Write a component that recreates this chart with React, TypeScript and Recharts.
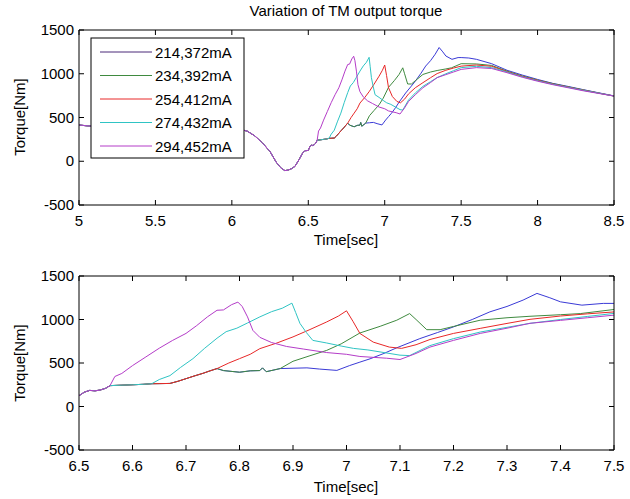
import { LineChart, Line, XAxis, YAxis } from "recharts";

type Pt = [number, number];

const TITLE = "Variation of TM output torque";
const X_LABEL = "Time[sec]";
const Y_LABEL = "Torque[Nm]";
const SERIES_NAMES = ["214,372mA", "234,392mA", "254,412mA", "274,432mA", "294,452mA"];
const LINE_COLORS = ["#3a3ad6", "#3f8a3f", "#e82828", "#2fc4c4", "#b43cc8"];
const LEGEND_COLORS = ["#4a2878", "#3f8a3f", "#e82828", "#2fc4c4", "#b43cc8"];

const Y_TICKS = [-500, 0, 500, 1000, 1500];
const TOP_X_TICKS = [5, 5.5, 6, 6.5, 7, 7.5, 8, 8.5];
const BOTTOM_X_TICKS = [6.5, 6.6, 6.7, 6.8, 6.9, 7, 7.1, 7.2, 7.3, 7.4, 7.5];

// segment shared by every current
const COMMON: Pt[] = [
  [5.0, 415], [5.05, 405], [5.1, 400], [5.2, 398], [5.3, 396], [5.4, 394], [5.5, 392],
  [5.6, 390], [5.7, 388], [5.8, 385], [5.9, 380], [6.0, 370], [6.05, 365], [6.1, 345],
  [6.15, 290], [6.2, 210], [6.25, 110], [6.29, -10], [6.32, -75], [6.347, -107],
  [6.37, -100], [6.39, -85], [6.413, -58], [6.44, 20], [6.465, 100], [6.48, 120],
  [6.5, 124], [6.51, 165], [6.52, 185], [6.53, 180], [6.54, 190], [6.55, 210], [6.558, 240],
];
// 214..274 still together
const LOW: Pt[] = [[6.58, 245], [6.6, 250], [6.62, 255], [6.636, 262]];
// 214, 234, 254 together
const RGB: Pt[] = [
  [6.65, 263], [6.67, 265], [6.685, 290], [6.7, 320], [6.715, 350], [6.732, 382],
  [6.745, 410], [6.758, 436],
];
// 214, 234 together
const GB: Pt[] = [[6.77, 413], [6.8, 394], [6.82, 410], [6.838, 413], [6.843, 444], [6.85, 400], [6.876, 436]];

const S214: Pt[] = [
  [6.9, 440], [6.926, 444], [6.95, 430], [6.982, 415], [7.006, 471], [7.025, 510],
  [7.044, 548], [7.07, 610], [7.094, 675], [7.137, 780], [7.17, 850], [7.2, 915],
  [7.235, 1000], [7.268, 1088], [7.3, 1150], [7.33, 1223], [7.356, 1300], [7.38, 1250],
  [7.4, 1203], [7.44, 1165], [7.48, 1185], [7.5, 1185], [7.55, 1180], [7.6, 1165],
  [7.7, 1115], [7.8, 1040], [7.9, 985], [8.0, 935], [8.1, 890], [8.2, 855], [8.3, 818],
  [8.4, 782], [8.5, 747],
];
const S234: Pt[] = [
  [6.9, 520], [6.93, 580], [6.963, 645], [6.99, 720], [7.025, 845], [7.063, 922],
  [7.094, 992], [7.118, 1068], [7.13, 1000], [7.15, 883], [7.175, 883], [7.2, 920],
  [7.25, 992], [7.3, 1020], [7.343, 1037], [7.4, 1055], [7.437, 1068], [7.5, 1115],
  [7.6, 1112], [7.7, 1095], [7.8, 1030], [7.9, 975], [8.0, 928], [8.1, 887], [8.2, 850],
  [8.3, 815], [8.4, 780], [8.5, 745],
];
const S254: Pt[] = [
  [6.78, 500], [6.8, 550], [6.82, 600], [6.838, 665], [6.87, 730], [6.9, 800], [6.93, 880],
  [6.963, 972], [6.985, 1040], [7.0, 1100], [7.012, 980], [7.025, 840], [7.05, 740],
  [7.08, 683], [7.103, 668], [7.13, 710], [7.156, 770], [7.2, 840], [7.25, 898],
  [7.3, 955], [7.343, 1002], [7.4, 1040], [7.45, 1065], [7.5, 1087], [7.6, 1100],
  [7.7, 1085], [7.8, 1025], [7.9, 970], [8.0, 925], [8.1, 883], [8.2, 848], [8.3, 812],
  [8.4, 778], [8.5, 745],
];
const S274: Pt[] = [
  [6.65, 310], [6.67, 355], [6.69, 450], [6.713, 550], [6.735, 670], [6.758, 785],
  [6.775, 860], [6.795, 900], [6.815, 960], [6.838, 1030], [6.86, 1090], [6.88, 1130],
  [6.898, 1188], [6.905, 1080], [6.913, 955], [6.925, 850], [6.937, 760], [6.963, 730],
  [6.99, 695], [7.013, 668], [7.04, 650], [7.07, 620], [7.1, 590], [7.118, 585],
  [7.156, 700], [7.2, 780], [7.25, 856], [7.3, 910], [7.343, 956], [7.4, 1000],
  [7.45, 1035], [7.5, 1070], [7.6, 1085], [7.7, 1070], [7.8, 1020], [7.9, 965],
  [8.0, 920], [8.1, 880], [8.2, 845], [8.3, 810], [8.4, 778], [8.5, 745],
];
const S294: Pt[] = [
  [6.567, 345], [6.58, 380], [6.6, 470], [6.625, 570], [6.65, 670], [6.675, 760],
  [6.7, 840], [6.72, 930], [6.74, 1030], [6.758, 1106], [6.77, 1110], [6.785, 1170],
  [6.797, 1200], [6.805, 1150], [6.815, 1030], [6.825, 875], [6.838, 795], [6.86, 735],
  [6.888, 690], [6.92, 660], [6.963, 620], [7.0, 600], [7.025, 575], [7.05, 565],
  [7.075, 555], [7.1, 540], [7.13, 610], [7.156, 683], [7.2, 760], [7.25, 840],
  [7.3, 900], [7.343, 956], [7.4, 990], [7.45, 1020], [7.5, 1050], [7.6, 1070],
  [7.7, 1060], [7.8, 1012], [7.9, 960], [8.0, 915], [8.1, 875], [8.2, 840], [8.3, 805],
  [8.4, 775], [8.5, 745],
];

const SERIES: Pt[][] = [
  [...COMMON, ...LOW, ...RGB, ...GB, ...S214],
  [...COMMON, ...LOW, ...RGB, ...GB, ...S234],
  [...COMMON, ...LOW, ...RGB, ...S254],
  [...COMMON, ...LOW, ...S274],
  [...COMMON, ...S294],
];

const FONT = "'Liberation Sans', Arial, sans-serif";

const fmt = (v: number) => String(Math.round(v * 10) / 10);

const BottomTick = ({ x, y, payload }: any) => (
  <g>
    <line x1={x} x2={x} y1={y} y2={y - 5} stroke="#000" />
    <text x={x} y={y + 21} textAnchor="middle" fontSize={15} fontFamily={FONT} fill="#000">
      {fmt(payload.value)}
    </text>
  </g>
);
const TopTick = ({ x, y }: any) => <line x1={x} x2={x} y1={y} y2={y + 5} stroke="#000" />;
const LeftTick = ({ x, y, payload }: any) => (
  <g>
    <line x1={x} x2={x + 5} y1={y} y2={y} stroke="#000" />
    <text x={x - 5} y={y + 5} textAnchor="end" fontSize={15} fontFamily={FONT} fill="#000">
      {payload.value}
    </text>
  </g>
);
const RightTick = ({ x, y }: any) => <line x1={x} x2={x - 5} y1={y} y2={y} stroke="#000" />;

function Panel({ top, height, mTop, mBottom, domain, xTicks }: any) {
  return (
    <div style={{ position: "absolute", left: 0, top }}>
      <LineChart width={630} height={height} margin={{ top: mTop - 1, right: 15, bottom: mBottom - 1, left: 78 }}>
        <XAxis
          type="number" dataKey="t" domain={domain} ticks={xTicks} allowDataOverflow interval={0}
          height={1} tickSize={0} tickMargin={0} tickLine={false} tick={<BottomTick />}
          axisLine={{ stroke: "#000" }}
        />
        <XAxis
          xAxisId="top" orientation="top" type="number" dataKey="t" domain={domain} ticks={xTicks}
          allowDataOverflow interval={0} height={1} tickSize={0} tickMargin={0} tickLine={false}
          tick={<TopTick />} axisLine={{ stroke: "#000" }}
        />
        <YAxis
          type="number" domain={[-500, 1500]} ticks={Y_TICKS} allowDataOverflow interval={0}
          width={1} tickSize={0} tickMargin={0} tickLine={false} tick={<LeftTick />}
          axisLine={{ stroke: "#000" }}
        />
        <YAxis
          yAxisId="right" orientation="right" type="number" domain={[-500, 1500]} ticks={Y_TICKS}
          allowDataOverflow interval={0} width={1} tickSize={0} tickMargin={0} tickLine={false}
          tick={<RightTick />} axisLine={{ stroke: "#000" }}
        />
        {SERIES.map((pts, i) => (
          <Line
            key={SERIES_NAMES[i]}
            data={pts.map(([t, v]) => ({ t, v }))}
            dataKey="v"
            type="linear"
            stroke={LINE_COLORS[i]}
            strokeWidth={1}
            dot={false}
            activeDot={false}
            isAnimationActive={false}
          />
        ))}
      </LineChart>
    </div>
  );
}

export default function App() {
  const legendRows = [52, 75.5, 99, 122.5, 146];
  return (
    <div style={{ position: "absolute", left: 0, top: 0, width: 630, height: 499, background: "#fff" }}>
      <Panel top={0} height={250} mTop={30} mBottom={45} domain={[5, 8.5]} xTicks={TOP_X_TICKS} />
      <Panel top={250} height={249} mTop={26} mBottom={49} domain={[6.5, 7.5]} xTicks={BOTTOM_X_TICKS} />
      <svg width={630} height={499} style={{ position: "absolute", left: 0, top: 0, pointerEvents: "none" }}>
        <text x={346} y={16} textAnchor="middle" fontSize={15} fontFamily={FONT}>{TITLE}</text>
        <text x={346} y={245} textAnchor="middle" fontSize={15} fontFamily={FONT}>{X_LABEL}</text>
        <text x={346} y={492} textAnchor="middle" fontSize={15} fontFamily={FONT}>{X_LABEL}</text>
        <text transform="translate(25,117) rotate(-90)" textAnchor="middle" fontSize={15} fontFamily={FONT}>{Y_LABEL}</text>
        <text transform="translate(25,363) rotate(-90)" textAnchor="middle" fontSize={15} fontFamily={FONT}>{Y_LABEL}</text>
        <rect x={91} y={38} width={153} height={120} fill="#fff" stroke="#000" />
        {SERIES_NAMES.map((name, i) => (
          <g key={name}>
            <line x1={100} x2={152} y1={legendRows[i]} y2={legendRows[i]} stroke={LEGEND_COLORS[i]} />
            <text x={155} y={legendRows[i] + 5.5} fontSize={15} fontFamily={FONT}>{name}</text>
          </g>
        ))}
      </svg>
    </div>
  );
}
